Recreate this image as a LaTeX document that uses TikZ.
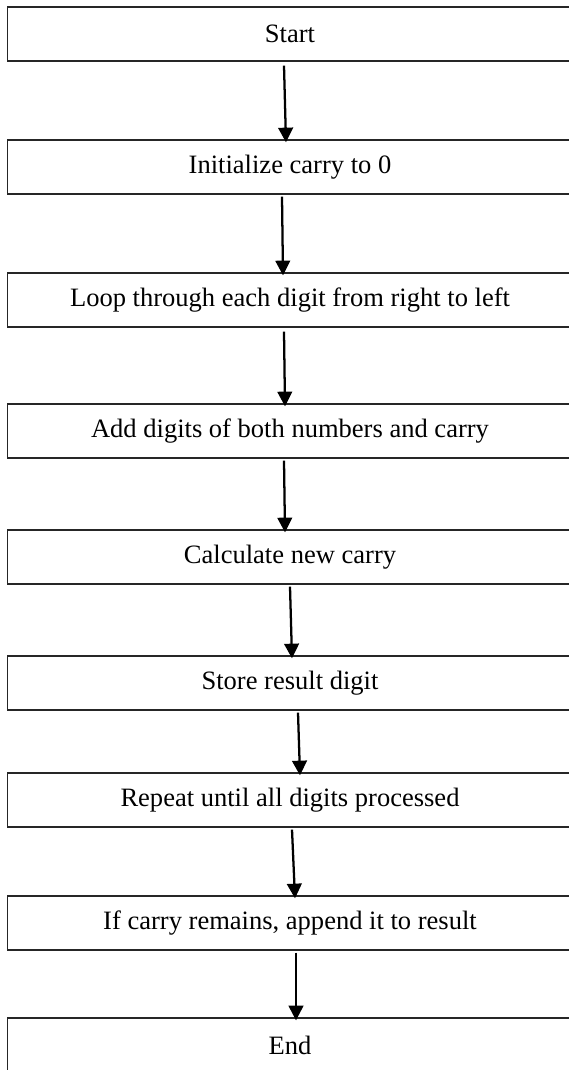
\documentclass[tikz,border=0pt]{standalone}
\usepackage{fontspec}
\setmainfont{Liberation Serif}
\usetikzlibrary{arrows.meta,calc}
\begin{document}
\begin{tikzpicture}[x=0.75pt,y=-0.75pt,
  box/.style={draw=black!85, line width=1pt, minimum width=423.75pt, minimum height=40.5pt,
    inner sep=0pt, font=\fontsize{19.9}{24}\selectfont},
  arr/.style={draw=black, line width=1.7pt, -{Triangle[length=11pt,width=11pt]}}]
\useasboundingbox (0,0) rectangle (568,1070);
\node[box] (b1) at (290,34) {Start};
\node[box] (b2) at (290,167) {Initialize carry to 0};
\node[box] (b3) at (290,300) {Loop through each digit from right to left};
\node[box] (b4) at (290,431) {Add digits of both numbers and carry};
\node[box] (b5) at (290,557) {Calculate new carry};
\node[box] (b6) at (290,683) {Store result digit};
\node[box] (b7) at (290,800) {Repeat until all digits processed};
\node[box] (b8) at (290,923) {If carry remains, append it to result};
\node[box] (b9) at (290,1045) {End};
\draw[arr] ($(b1.south)+(-6,4)$) -- ($(b2.north)+(-4,3)$);
\draw[arr] ($(b2.south)+(-8,2)$) -- ($(b3.north)+(-7,3)$);
\draw[arr] ($(b3.south)+(-6,4)$) -- ($(b4.north)+(-5,3)$);
\draw[arr] ($(b4.south)+(-6,2)$) -- ($(b5.north)+(-5,3)$);
\draw[arr] ($(b5.south)+(0,2)$) -- ($(b6.north)+(2,3)$);
\draw[arr] ($(b6.south)+(8,2)$) -- ($(b7.north)+(10,3)$);
\draw[arr] ($(b7.south)+(2,2)$) -- ($(b8.north)+(5,3)$);
\draw[arr] ($(b8.south)+(6,2)$) -- ($(b9.north)+(6,3)$);
\end{tikzpicture}
\end{document}
